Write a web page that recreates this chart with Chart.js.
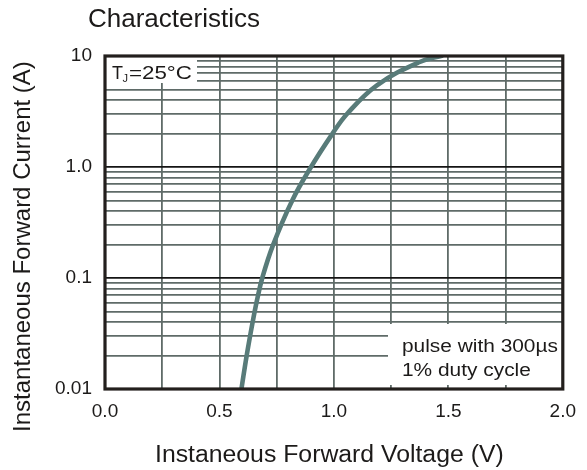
<!DOCTYPE html>
<html><head><meta charset="utf-8">
<script src="https://cdn.jsdelivr.net/npm/chart.js@4/dist/chart.umd.min.js"></script>
<style>html,body{margin:0;padding:0;background:#fff;}#wrap{width:587px;height:470px;}</style>
</head><body><div id="wrap"><canvas id="c" width="587" height="470"></canvas></div>
<script>
// ---- data ----
const voltage = [0.596, 0.619, 0.645, 0.664, 0.687, 0.734, 0.818, 0.900, 0.994, 1.058, 1.188, 1.375, 1.476];
const current = [0.010, 0.020, 0.040, 0.063, 0.100, 0.198, 0.500, 1.00, 2.00, 3.02, 5.45, 8.83, 10.1];

const xGridValues = [0, 0.25, 0.5, 0.75, 1.0, 1.25, 1.5, 1.75, 2.0];
const xLabelValues = [0, 0.5, 1.0, 1.5, 2.0];
const xLabels = ['0.0', '0.5', '1.0', '1.5', '2.0'];
const yDecades = [0.01, 0.1, 1];
const yMultipliers = [1, 2, 3, 4, 5, 6, 7, 8, 9];
const yLabelValues = [0.01, 0.1, 1, 10];
const yLabels = ['0.01', '0.1', '1.0', '10'];

const chartTitle = 'Characteristics';
const xTitle = 'Instaneous Forward Voltage (V)';
const yTitle = 'Instantaneous Forward Current (A)';
const noteTj = ['T', 'J', '=25°C'];
const notePulse = ['pulse with 300µs', '1% duty cycle'];

const FONT = "'Liberation Sans', Arial, sans-serif";
const TEXT = '#1c1a19';
const GRID = '#5f6b68';
const MAJOR = '#141414';

const yGridValues = [];
yDecades.forEach(d => yMultipliers.forEach(m => yGridValues.push(+(d * m).toPrecision(3))));
yGridValues.push(10);

const near = (a, b) => Math.abs(a - b) < 1e-9 * Math.max(1, Math.abs(b));
const isDecade = v => { const l = Math.log10(v); return Math.abs(l - Math.round(l)) < 1e-6; };

function stretchText(ctx, txt, x, y, size, sx, opts) {
  ctx.save();
  ctx.font = size + 'px ' + FONT;
  ctx.fillStyle = TEXT;
  ctx.textAlign = 'left';
  ctx.textBaseline = 'alphabetic';
  ctx.translate(x, y);
  if (opts && opts.rotate) ctx.rotate(opts.rotate);
  ctx.scale(sx, 1);
  ctx.fillText(txt, 0, 0);
  const w = ctx.measureText(txt).width * sx;
  ctx.restore();
  return w;
}

const decor = {
  id: 'decor',
  beforeDatasetsDraw(chart) {
    const ctx = chart.ctx, a = chart.chartArea;
    ctx.save();
    ctx.fillStyle = '#ffffff';
    // T_J label box (top-left)
    ctx.fillRect(a.left, a.top, 92, 27);
    // pulse note box (bottom-right)
    ctx.fillRect(388, 324, a.right - 388, a.bottom - 4 - 324);
    ctx.restore();
  },
  afterDraw(chart) {
    const ctx = chart.ctx, a = chart.chartArea;
    // frame
    ctx.save();
    ctx.strokeStyle = '#231f1d';
    ctx.lineWidth = 3.2;
    ctx.strokeRect(a.left, a.top, a.right - a.left, a.bottom - a.top);
    ctx.restore();
    // main title
    stretchText(ctx, chartTitle, 88, 26.5, 26, 1.0);
    // axis titles
    stretchText(ctx, xTitle, 155, 461.5, 23, 1.078);
    stretchText(ctx, yTitle, 29.5, 432, 24, 1.0, {rotate: -Math.PI / 2});
    // T_J = 25 °C
    let x = 112;
    x += stretchText(ctx, noteTj[0], x, 78.5, 18, 1.0);
    x += stretchText(ctx, noteTj[1], x - 0.5, 81.5, 11, 1.0);
    stretchText(ctx, noteTj[2], x + 0.5, 78.5, 18, 1.24);
    // pulse note
    stretchText(ctx, notePulse[0], 402, 352, 18, 1.16);
    stretchText(ctx, notePulse[1], 402, 375.5, 18, 1.16);
  }
};

new Chart(document.getElementById('c'), {
  type: 'line',
  data: {
    datasets: [{
      data: voltage.map((v, i) => ({x: v, y: current[i]})),
      borderColor: '#587b79',
      borderWidth: 4.6,
      pointRadius: 0,
      fill: false,
      tension: 0.4
    }]
  },
  options: {
    responsive: false,
    animation: false,
    devicePixelRatio: 1,
    layout: {padding: {top: 56, right: 19, bottom: 0, left: 0}},
    plugins: {legend: {display: false}, tooltip: {enabled: false}, title: {display: false}},
    scales: {
      x: {
        type: 'linear', min: 0, max: 2,
        afterBuildTicks: s => { s.ticks = xGridValues.map(v => ({value: v})); },
        afterFit: s => { s.height = 81; },
        grid: {color: GRID, lineWidth: 1.8, drawTicks: false},
        border: {display: false},
        ticks: {
          autoSkip: false, maxRotation: 0, padding: 11, color: TEXT,
          font: {family: FONT, size: 19},
          callback: v => { const i = xLabelValues.findIndex(t => near(t, v)); return i >= 0 ? xLabels[i] : ''; }
        }
      },
      y: {
        type: 'logarithmic', min: 0.01, max: 10,
        afterBuildTicks: s => { s.ticks = yGridValues.map(v => ({value: v})); },
        afterFit: s => { s.width = 105; },
        grid: {
          color: c => (c.tick && isDecade(c.tick.value)) ? MAJOR : GRID,
          lineWidth: 1.8, drawTicks: false
        },
        border: {display: false},
        ticks: {
          autoSkip: false, padding: 13, color: TEXT,
          font: {family: FONT, size: 19},
          callback: v => { const i = yLabelValues.findIndex(t => near(t, v)); return i >= 0 ? yLabels[i] : ''; }
        }
      }
    }
  },
  plugins: [decor]
});
</script></body></html>
